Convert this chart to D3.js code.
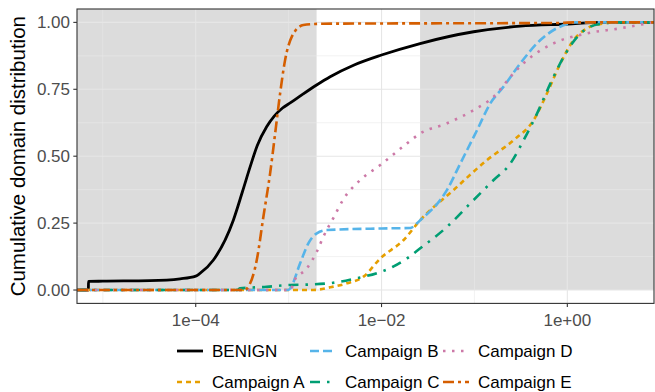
<!DOCTYPE html>
<meta charset="utf-8">
<script src="https://d3js.org/d3.v7.min.js"></script>
<style>
  body { margin: 0; background: #fff; }
  text { font-family: "Liberation Sans", Arial, sans-serif; }
</style>
<svg id="chart" width="655" height="392"></svg>
<script>

  // series: [x, cumulative share]
  var benign = [[7e-6, 0], [7.001e-6, 0.032], [1e-5, 0.033], [3.2e-5, 0.035], [6.8e-5, 0.042], [1e-4, 0.052],
    [1.11e-4, 0.062], [1.55e-4, 0.112], [2.54e-4, 0.261], [3.2e-4, 0.37], [3.85e-4, 0.46], [4.6e-4, 0.54],
    [5.8e-4, 0.61], [7e-4, 0.65], [8.6e-4, 0.68], [1.05e-3, 0.70], [1.4e-3, 0.73], [2e-3, 0.766],
    [2.8e-3, 0.797], [5e-3, 0.84], [1e-2, 0.878], [2.6e-2, 0.921], [0.098, 0.965],
    [0.31, 0.986], [1.0, 0.994], [2.3, 1.0]];
  var campA = [[1.84e-3, 0], [2.8e-3, 0.01], [4.24e-3, 0.025], [6.4e-3, 0.05], [9.7e-3, 0.118], [0.0173, 0.187],
    [0.0261, 0.261], [0.0597, 0.374], [0.137, 0.486], [0.264, 0.56], [0.434, 0.635], [0.605, 0.735],
    [0.843, 0.847], [1.17, 0.934], [1.63, 0.978], [2.28, 0.994], [3.06, 1.0]];
  var campB = [[9.9e-4, 0], [1.04e-3, 0.006], [1.33e-3, 0.1], [1.63e-3, 0.174], [2.01e-3, 0.212], [2.58e-3, 0.224],
    [1e-2, 0.23], [0.0204, 0.232], [0.0261, 0.261], [0.0507, 0.374], [0.0705, 0.473], [0.107, 0.598],
    [0.148, 0.697], [0.206, 0.76], [0.312, 0.847], [0.513, 0.934], [1.0, 0.994], [1.22, 1.0]];
  var campC = [[2.79e-4, 0], [3.0e-4, 0.006], [5.8e-4, 0.012], [1.04e-3, 0.019], [1.85e-3, 0.021], [3.3e-3, 0.029],
    [5.4e-3, 0.044], [8.9e-3, 0.063], [0.0135, 0.088], [0.0188, 0.118], [0.0261, 0.156], [0.0507, 0.236],
    [0.0904, 0.324], [0.161, 0.411], [0.244, 0.473], [0.339, 0.56], [0.473, 0.66], [0.658, 0.772],
    [0.914, 0.871], [1.28, 0.946], [1.77, 0.984], [2.47, 0.996], [3.3, 1.0]];
  var campD = [[1.06e-3, 0], [1.13e-3, 0.031], [1.57e-3, 0.081], [2.01e-3, 0.143], [2.37e-3, 0.2], [3.04e-3, 0.27],
    [3.9e-3, 0.34], [5.9e-3, 0.411], [9.7e-3, 0.467], [0.0188, 0.548], [0.0261, 0.585], [0.0507, 0.623],
    [0.098, 0.672], [0.161, 0.722], [0.264, 0.81], [0.369, 0.859], [0.713, 0.922], [1.63, 0.959],
    [3.73, 0.978], [6.95, 0.995], [8.3, 1.0]];
  var campE = [[3.4e-4, 0], [3.55e-4, 0.005], [4.54e-4, 0.112], [5.35e-4, 0.274], [6.32e-4, 0.436], [7.16e-4, 0.585],
    [8.1e-4, 0.735], [9.16e-4, 0.859], [1.08e-3, 0.946], [1.44e-3, 0.99], [2.37e-3, 0.995], [0.84, 0.998],
    [1.2, 1.0]];

  var names = ["BENIGN", "Campaign A", "Campaign B", "Campaign C", "Campaign D", "Campaign E"];
  var colors = ["#000000", "#E69F00", "#56B4E9", "#009E73", "#CC79A7", "#D55E00"];
  var dashes = ["none", "5,4", "9,4", "10,7,2.5,7", "2.5,6.5", "11,4,3,4"];
  var widths = [2.8, 2.6, 2.6, 2.6, 2.6, 2.6];
  var seriesData = [benign, campA, campB, campC, campD, campE];

  // shaded bands (x ranges)
  var bands = [[null, 2e-3], [0.026, null]];

  var yTicks = [0, 0.25, 0.5, 0.75, 1];
  var yMinor = [0.125, 0.375, 0.625, 0.875];
  var xTicks = [1e-4, 1e-2, 1];
  var xTickLabels = ["1e\u221204", "1e\u221202", "1e+00"];
  var xMinor = [1e-5, 1e-3, 1e-1];

  var svg = d3.select("#chart");
  var pL = 77, pR = 654, pT = 9, pB = 303.4;

  var x = d3.scaleLog()
    .domain([Math.pow(10, -5.278), Math.pow(10, 0.933)])
    .range([pL, pR]);
  var y = d3.scaleLinear()
    .domain([-0.05, 1.05])
    .range([pB, pT]);

  svg.append("defs").append("clipPath").attr("id", "clip")
    .append("rect").attr("x", pL).attr("y", pT)
    .attr("width", pR - pL).attr("height", pB - pT);

  var panel = svg.append("g").attr("clip-path", "url(#clip)");

  // bands
  panel.selectAll("rect.band")
    .data(bands)
    .enter().append("rect")
    .attr("class", "band")
    .attr("x", function (d) { return d[0] == null ? pL : x(d[0]); })
    .attr("width", function (d) { return (d[1] == null ? pR : x(d[1])) - (d[0] == null ? pL : x(d[0])); })
    .attr("y", pT)
    .attr("height", y(0) - pT)
    .attr("fill", "#dcdcdc");

  // grid
  panel.selectAll("line.ymin").data(yMinor).enter().append("line")
    .attr("x1", pL).attr("x2", pR)
    .attr("y1", function (d) { return y(d); }).attr("y2", function (d) { return y(d); })
    .attr("stroke", "#e9e9e9").attr("stroke-width", 0.6);
  panel.selectAll("line.xmin").data(xMinor).enter().append("line")
    .attr("y1", pT).attr("y2", pB)
    .attr("x1", function (d) { return x(d); }).attr("x2", function (d) { return x(d); })
    .attr("stroke", "#e9e9e9").attr("stroke-width", 0.6);
  panel.selectAll("line.ymaj").data(yTicks).enter().append("line")
    .attr("x1", pL).attr("x2", pR)
    .attr("y1", function (d) { return y(d); }).attr("y2", function (d) { return y(d); })
    .attr("stroke", "#e6e6e6").attr("stroke-width", 1.1);
  panel.selectAll("line.xmaj").data(xTicks).enter().append("line")
    .attr("y1", pT).attr("y2", pB)
    .attr("x1", function (d) { return x(d); }).attr("x2", function (d) { return x(d); })
    .attr("stroke", "#e6e6e6").attr("stroke-width", 1.1);

  // ecdf lines, padded to both edges
  var line = d3.line()
    .x(function (d) { return x(d[0]); })
    .y(function (d) { return y(d[1]); })
    .curve(d3.curveMonotoneX);

  var xd = x.domain();
  seriesData.forEach(function (pts, i) {
    var full = [[xd[0], 0]].concat(pts, [[xd[1], 1]]);
    panel.append("path")
      .datum(full)
      .attr("d", line)
      .attr("fill", "none")
      .attr("stroke", colors[i])
      .attr("stroke-width", widths[i])
      .attr("stroke-dasharray", dashes[i]);
  });

  // border
  svg.append("rect")
    .attr("x", pL).attr("y", pT)
    .attr("width", pR - pL).attr("height", pB - pT)
    .attr("fill", "none").attr("stroke", "#333333").attr("stroke-width", 1.1);

  // axes
  var yAxis = svg.append("g");
  yTicks.forEach(function (t) {
    yAxis.append("line")
      .attr("x1", pL - 3.7).attr("x2", pL)
      .attr("y1", y(t)).attr("y2", y(t))
      .attr("stroke", "#333333").attr("stroke-width", 1.1);
    yAxis.append("text")
      .attr("x", pL - 7).attr("y", y(t) + 6)
      .attr("text-anchor", "end")
      .style("font-size", "17px")
      .attr("fill", "#4d4d4d")
      .text(d3.format(".2f")(t));
  });

  var xAxis = svg.append("g");
  xTicks.forEach(function (t, i) {
    xAxis.append("line")
      .attr("x1", x(t)).attr("x2", x(t))
      .attr("y1", pB).attr("y2", pB + 3.7)
      .attr("stroke", "#333333").attr("stroke-width", 1.1);
    xAxis.append("text")
      .attr("x", x(t)).attr("y", pB + 22.5)
      .attr("text-anchor", "middle")
      .style("font-size", "17px")
      .attr("fill", "#4d4d4d")
      .text(xTickLabels[i]);
  });

  svg.append("text")
    .attr("transform", "translate(25," + ((pT + pB) / 2) + ") rotate(-90)")
    .attr("text-anchor", "middle")
    .style("font-size", "20.5px")
    .attr("fill", "#000")
    .text("Cumulative domain distribution");

  // legend: 2 rows, filled by column
  var colX = [177, 310, 443];
  var rowY = [351, 382];
  var legend = svg.append("g");
  names.forEach(function (n, i) {
    var cx = colX[Math.floor(i / 2)], cy = rowY[i % 2];
    legend.append("line")
      .attr("x1", cx).attr("x2", cx + 26)
      .attr("y1", cy).attr("y2", cy)
      .attr("stroke", colors[i])
      .attr("stroke-width", widths[i])
      .attr("stroke-dasharray", dashes[i]);
    legend.append("text")
      .attr("x", cx + 35).attr("y", cy + 6)
      .style("font-size", "17px")
      .attr("fill", "#000")
      .text(n);
  });

</script>
